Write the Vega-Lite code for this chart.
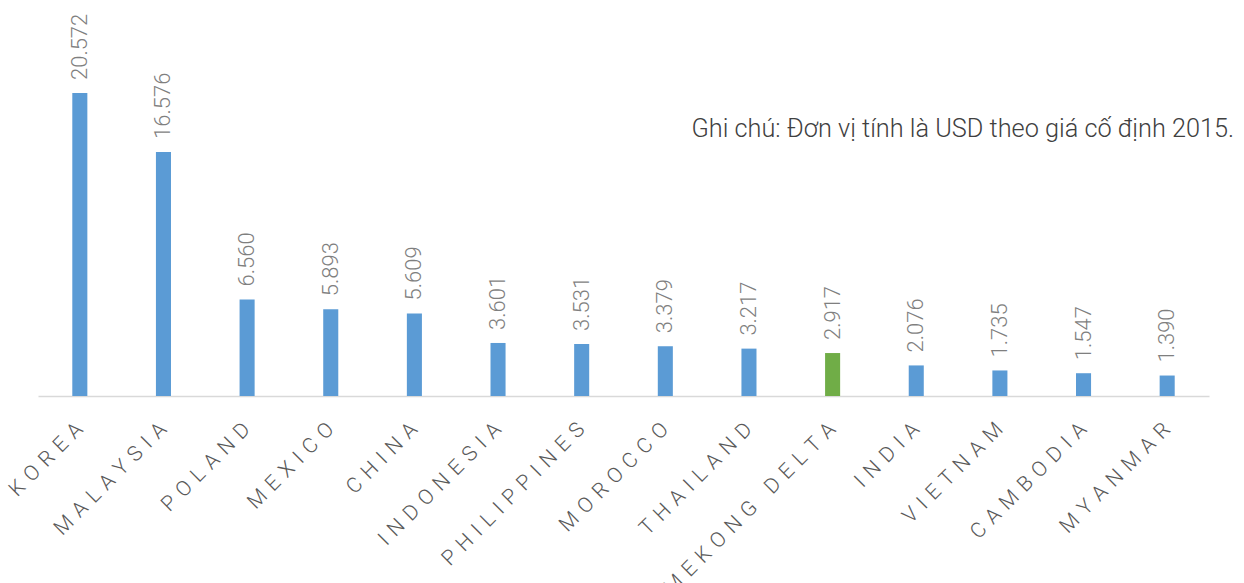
{
  "$schema": "https://vega.github.io/schema/vega-lite/v6.json",
  "width": 1171,
  "height": 324,
  "autosize": {"type": "none"},
  "padding": {"left": 38, "top": 72, "right": 35, "bottom": 187},
  "background": "white",
  "config": {
    "view": {"stroke": null},
    "font": "Roboto",
    "locale": {"number": {"decimal": ",", "thousands": ".", "grouping": [3], "currency": ["", ""]}}
  },
  "datasets": {
    "gdp": [
      {"country": "KOREA", "value": 20572, "group": "other"},
      {"country": "MALAYSIA", "value": 16576, "group": "other"},
      {"country": "POLAND", "value": 6560, "group": "other"},
      {"country": "MEXICO", "value": 5893, "group": "other"},
      {"country": "CHINA", "value": 5609, "group": "other"},
      {"country": "INDONESIA", "value": 3601, "group": "other"},
      {"country": "PHILIPPINES", "value": 3531, "group": "other"},
      {"country": "MOROCCO", "value": 3379, "group": "other"},
      {"country": "THAILAND", "value": 3217, "group": "other"},
      {"country": "MEKONG DELTA", "value": 2917, "group": "mekong"},
      {"country": "INDIA", "value": 2076, "group": "other"},
      {"country": "VIETNAM", "value": 1735, "group": "other"},
      {"country": "CAMBODIA", "value": 1547, "group": "other"},
      {"country": "MYANMAR", "value": 1390, "group": "other"}
    ],
    "note": [
      {"text": "Ghi chú: Đơn vị tính là USD theo giá cố định 2015."}
    ]
  },
  "layer": [
    {
      "data": {"name": "gdp"},
      "mark": {"type": "bar"},
      "encoding": {
        "x": {
          "field": "country", "type": "nominal", "sort": null,
          "scale": {"paddingInner": 0.82, "paddingOuter": 0.41},
          "axis": {
            "title": null,
            "domainColor": "#d9d9d9",
            "domainWidth": 1.5,
            "ticks": false,
            "labelAngle": -45,
            "labelAlign": "right",
            "labelBaseline": "middle",
            "labelFont": "Roboto",
            "labelFontSize": 21,
            "labelFontWeight": 300,
            "labelColor": "#595959",
            "labelPadding": 30,
            "labelOffset": 0,
            "labelOverlap": false,
            "labelLimit": 400,
            "labelExpr": "join(split(datum.label, ''), '\u2004')"
          }
        },
        "y": {"field": "value", "type": "quantitative", "scale": {"domain": [0, 22000], "nice": false}, "axis": null},
        "color": {"field": "group", "type": "nominal", "scale": {"domain": ["other", "mekong"], "range": ["#5b9bd5", "#70ad47"]}, "legend": null}
      }
    },
    {
      "data": {"name": "gdp"},
      "mark": {"type": "text", "angle": 270, "align": "left", "baseline": "middle", "dx": 13, "font": "Roboto", "fontWeight": 300, "fontSize": 22, "color": "#7f7f7f"},
      "encoding": {
        "x": {"field": "country", "type": "nominal", "sort": null},
        "y": {"field": "value", "type": "quantitative"},
        "text": {"field": "value", "type": "quantitative", "format": ",d"}
      }
    },
    {
      "data": {"name": "note"},
      "mark": {"type": "text", "align": "right", "baseline": "alphabetic", "dx": 67, "font": "Roboto", "fontWeight": 300, "fontSize": 25.3, "color": "#404040"},
      "encoding": {
        "x": {"datum": "MYANMAR", "type": "nominal"},
        "y": {"datum": 17600, "type": "quantitative"},
        "text": {"field": "text", "type": "nominal"}
      }
    }
  ]
}
